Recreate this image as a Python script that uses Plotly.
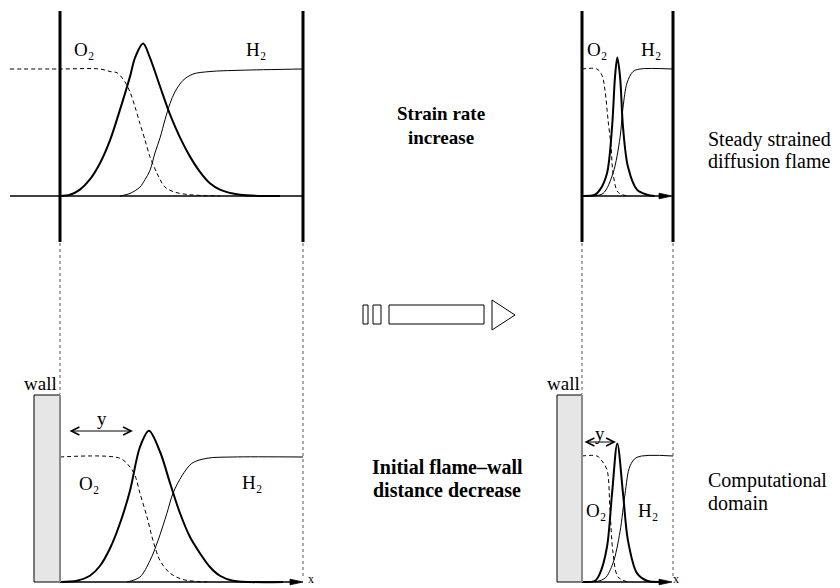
import plotly.graph_objects as go

W, H = 840, 588
SERIF = "Liberation Serif, Times New Roman, serif"

# Species profiles across each domain.
# Position: 0 = left boundary (wall / inlet), 1 = right boundary.
# Level: 0 = none, 1 = level of the incoming reactant stream.

# -- steady strained flame, low strain (top left)
tl_peak_pos = [0.0, 0.041, 0.082, 0.123, 0.165, 0.206, 0.247, 0.288, 0.309, 0.342,
               0.370, 0.412, 0.453, 0.494, 0.535, 0.576, 0.617, 0.658, 0.741, 0.905]
tl_peak_val = [0.0, 0.01, 0.05, 0.13, 0.26, 0.44, 0.68, 0.94, 1.09, 1.20,
               1.09, 0.86, 0.64, 0.46, 0.31, 0.19, 0.10, 0.05, 0.01, 0.0]
tl_o2_pos = [-0.206, 0.0, 0.165, 0.206, 0.235, 0.267, 0.288, 0.309, 0.329, 0.350,
             0.370, 0.399, 0.432, 0.473, 0.535, 0.658]
tl_o2_val = [1.0, 1.0, 1.0, 0.98, 0.97, 0.90, 0.82, 0.70, 0.57, 0.44,
             0.31, 0.18, 0.07, 0.03, 0.01, 0.0]
tl_h2_pos = [0.247, 0.288, 0.329, 0.350, 0.370, 0.391, 0.412, 0.432, 0.453, 0.473,
             0.506, 0.547, 0.617, 0.741, 1.0]
tl_h2_val = [0.0, 0.02, 0.07, 0.13, 0.20, 0.34, 0.46, 0.60, 0.73, 0.82,
             0.91, 0.96, 0.98, 0.99, 1.0]

# -- steady strained flame, high strain (top right)
tr_peak_pos = [0.0, 0.143, 0.198, 0.275, 0.330, 0.363, 0.388, 0.418, 0.451, 0.505,
               0.604, 0.714, 0.80]
tr_peak_val = [0.0, 0.01, 0.05, 0.18, 0.54, 0.94, 1.09, 0.94, 0.54, 0.23,
               0.05, 0.01, 0.0]
tr_o2_pos = [0.0, 0.165, 0.220, 0.253, 0.286, 0.319, 0.341, 0.396, 0.505]
tr_o2_val = [1.0, 1.0, 0.95, 0.83, 0.60, 0.39, 0.18, 0.03, 0.0]
tr_h2_pos = [0.088, 0.231, 0.341, 0.418, 0.451, 0.495, 0.560, 0.637, 1.0]
tr_h2_val = [0.0, 0.02, 0.18, 0.46, 0.70, 0.89, 0.98, 1.0, 1.0]

# -- flame near a wall, large initial distance (bottom left)
bl_peak_pos = [0.0, 0.070, 0.123, 0.165, 0.206, 0.247, 0.288, 0.329, 0.366, 0.412,
               0.453, 0.494, 0.535, 0.576, 0.617, 0.658, 0.712, 0.918]
bl_peak_val = [0.0, 0.01, 0.05, 0.13, 0.27, 0.47, 0.73, 1.08, 1.21, 1.04,
               0.79, 0.55, 0.36, 0.23, 0.12, 0.05, 0.01, 0.0]
bl_o2_pos = [0.0, 0.247, 0.288, 0.309, 0.329, 0.358, 0.383, 0.412, 0.453, 0.506, 0.605]
bl_o2_val = [1.0, 0.99, 0.92, 0.85, 0.71, 0.52, 0.33, 0.17, 0.07, 0.02, 0.0]
bl_h2_pos = [0.276, 0.329, 0.370, 0.403, 0.440, 0.465, 0.502, 0.543, 0.605, 0.712, 1.0]
bl_h2_val = [0.0, 0.04, 0.17, 0.33, 0.55, 0.71, 0.85, 0.95, 0.99, 1.0, 1.0]

# -- flame near a wall, small initial distance (bottom right)
br_peak_pos = [0.0, 0.143, 0.198, 0.275, 0.330, 0.388, 0.451, 0.505, 0.604, 0.714, 0.85]
br_peak_val = [0.0, 0.01, 0.07, 0.28, 0.70, 1.10, 0.70, 0.33, 0.07, 0.01, 0.0]
br_o2_pos = [0.0, 0.165, 0.220, 0.275, 0.308, 0.341, 0.396, 0.505]
br_o2_val = [1.0, 1.0, 0.96, 0.89, 0.57, 0.23, 0.04, 0.0]
br_h2_pos = [0.143, 0.253, 0.341, 0.418, 0.473, 0.527, 0.604, 1.0]
br_h2_val = [0.0, 0.03, 0.15, 0.40, 0.70, 0.92, 0.99, 1.0]

# Panel geometry (pixels): boundary x positions, baseline / reactant-level y, drawing region
PANELS = {
    "tl": dict(p0=60, p1=303, q0=196, q1=69, region=(0, 335, 0, 260)),
    "tr": dict(p0=582, p1=673, q0=196, q1=69, region=(540, 720, 0, 260)),
    "bl": dict(p0=60, p1=303, q0=582, q1=457, region=(0, 335, 330, 588)),
    "br": dict(p0=582, p1=673, q0=582, q1=456, region=(540, 720, 330, 588)),
}
AXES = {"tl": ("x", "y"), "tr": ("x2", "y2"), "bl": ("x3", "y3"), "br": ("x4", "y4")}


def px(x):
    return x / W


def py(y):
    return 1 - y / H


fig = go.Figure()
layout_axes = {}
for key, g in PANELS.items():
    left, right, top, bottom = g["region"]
    xa, ya = AXES[key]
    xname = "xaxis" + xa[1:]
    yname = "yaxis" + ya[1:]
    layout_axes[xname] = dict(
        domain=[px(left), px(right)],
        range=[(left - g["p0"]) / (g["p1"] - g["p0"]), (right - g["p0"]) / (g["p1"] - g["p0"])],
        anchor=ya, visible=False, fixedrange=True)
    layout_axes[yname] = dict(
        domain=[py(bottom), py(top)],
        range=[(g["q0"] - bottom) / (g["q0"] - g["q1"]), (g["q0"] - top) / (g["q0"] - g["q1"])],
        anchor=xa, visible=False, fixedrange=True)
fig.update_layout(**layout_axes)


def u_of(key, xpix):
    g = PANELS[key]
    return (xpix - g["p0"]) / (g["p1"] - g["p0"])


def v_of(key, ypix):
    g = PANELS[key]
    return (g["q0"] - ypix) / (g["q0"] - g["q1"])


PROFILES = {
    "tl": (tl_peak_pos, tl_peak_val, tl_o2_pos, tl_o2_val, tl_h2_pos, tl_h2_val),
    "tr": (tr_peak_pos, tr_peak_val, tr_o2_pos, tr_o2_val, tr_h2_pos, tr_h2_val),
    "bl": (bl_peak_pos, bl_peak_val, bl_o2_pos, bl_o2_val, bl_h2_pos, bl_h2_val),
    "br": (br_peak_pos, br_peak_val, br_o2_pos, br_o2_val, br_h2_pos, br_h2_val),
}

shapes = []

# baselines (drawn under the profiles)
for key in PANELS:
    xa, ya = AXES[key]
    start = -0.206 if key == "tl" else 0.0
    end = 1.0 if key == "tl" else u_of(key, {"tr": 660, "bl": 292, "br": 660}[key])
    shapes.append(dict(type="line", xref=xa, yref=ya, x0=start, x1=end, y0=0, y1=0,
                       line=dict(color="black", width=1.3), layer="below"))
    if key != "tl":
        tip = u_of(key, {"tr": 672, "bl": 303, "br": 672}[key])
        shapes.append(dict(type="path", xref=xa, yref=ya, xsizemode="pixel", ysizemode="pixel",
                           xanchor=tip, yanchor=0, path="M0,0 L-13,2.8 L-13,-2.8 Z",
                           fillcolor="black", line=dict(color="black", width=0.8)))

for key, (pk_x, pk_y, o2_x, o2_y, h2_x, h2_y) in PROFILES.items():
    xa, ya = AXES[key]
    fig.add_trace(go.Scatter(x=o2_x, y=o2_y, xaxis=xa, yaxis=ya, mode="lines",
                             line=dict(color="black", width=1, dash="4px,3px",
                                       shape="spline", smoothing=0.9),
                             hoverinfo="skip", showlegend=False))
    fig.add_trace(go.Scatter(x=h2_x, y=h2_y, xaxis=xa, yaxis=ya, mode="lines",
                             line=dict(color="black", width=1, shape="spline", smoothing=0.9),
                             hoverinfo="skip", showlegend=False))
    fig.add_trace(go.Scatter(x=pk_x, y=pk_y, xaxis=xa, yaxis=ya, mode="lines",
                             line=dict(color="black", width=2, shape="spline", smoothing=0.9),
                             hoverinfo="skip", showlegend=False))

# domain boundaries of the strained flames (solid) and their projections (dotted)
for key in ("tl", "tr"):
    xa, _ = AXES[key]
    for u in (0.0, 1.0):
        shapes.append(dict(type="line", xref=xa, yref="paper", x0=u, x1=u,
                           y0=py(11), y1=py(242), line=dict(color="black", width=3)))
for key in ("bl", "br"):
    xa, _ = AXES[key]
    shapes.append(dict(type="line", xref=xa, yref="paper", x0=0, x1=0,
                       y0=py(243), y1=py(394), line=dict(color="#555", width=1, dash="dot")))
    shapes.append(dict(type="line", xref=xa, yref="paper", x0=1, x1=1,
                       y0=py(243), y1=py(577), line=dict(color="#555", width=1, dash="dot")))
    # wall
    wall_left = {"bl": 34, "br": 557}[key]
    shapes.append(dict(type="rect", xref=xa, yref="paper", x0=u_of(key, wall_left), x1=0,
                       y0=py(582), y1=py(395), fillcolor="#e6e6e6",
                       line=dict(color="black", width=1)))
    shapes.append(dict(type="line", xref=xa, yref="paper", x0=0, x1=0,
                       y0=py(582), y1=py(395), line=dict(color="#8a8a8a", width=2)))

# central arrow
for x0, x1 in ((363, 368), (373, 381), (389, 484)):
    shapes.append(dict(type="rect", xref="paper", yref="paper", x0=px(x0), x1=px(x1),
                       y0=py(324), y1=py(305), fillcolor="white",
                       line=dict(color="black", width=1)))
shapes.append(dict(type="path", xref="paper", yref="paper",
                   path=f"M{px(492)},{py(300)} L{px(515)},{py(315)} L{px(492)},{py(330)} Z",
                   fillcolor="white", line=dict(color="black", width=1)))

annotations = []


def label(text, x, y, size=19, xanchor="left", bold=False, ya="middle"):
    t = f"<b>{text}</b>" if bold else text
    annotations.append(dict(text=t, x=px(x), y=py(y), xref="paper", yref="paper",
                            xanchor=xanchor, yanchor=ya, showarrow=False,
                            font=dict(family=SERIF, size=size, color="black")))


O2 = "O\u2082"
H2 = "H\u2082"
label(O2, 72, 50)
label(H2, 244, 50)
label(O2, 585, 50)
label(H2, 639, 50)
label(O2, 77, 483)
label(H2, 240, 482)
label(O2, 584, 510)
label(H2, 636, 510)
label("wall", 59, 384, xanchor="right")
label("wall", 582, 384, xanchor="right")
label("y", 102, 418, xanchor="center")
label("y", 600, 433, xanchor="center")
label("x", 306, 588, size=12, ya="bottom")
label("x", 671, 588, size=12, ya="bottom")

label("Strain rate", 441, 113, size=19, xanchor="center", bold=True)
label("increase", 441, 137, size=19, xanchor="center", bold=True)
label("Initial flame\u2013wall", 447, 467, size=20, xanchor="center", bold=True)
label("distance decrease", 447, 490, size=20, xanchor="center", bold=True)
label("Steady strained", 706, 139, size=20)
label("diffusion flame", 706, 161, size=20)
label("Computational", 706, 480, size=20)
label("domain", 706, 503, size=20)

# flame-wall distance arrows
for key, xl, xr, ypix in (("bl", 68, 133, 431), ("br", 583, 616, 442)):
    xa, ya = AXES[key]
    annotations.append(dict(text="", xref=xa, yref=ya, axref=xa, ayref=ya,
                            x=u_of(key, xr), y=v_of(key, ypix),
                            ax=u_of(key, xl), ay=v_of(key, ypix),
                            showarrow=True, arrowside="end+start", arrowhead=5,
                            startarrowhead=5, arrowsize=1.6, startarrowsize=1.6,
                            arrowwidth=1, arrowcolor="black", standoff=0, startstandoff=0))

fig.update_layout(
    width=W, height=H,
    margin=dict(l=0, r=0, t=0, b=0),
    paper_bgcolor="white", plot_bgcolor="rgba(0,0,0,0)",
    shapes=shapes, annotations=annotations,
    showlegend=False,
)

fig.write_html("out.html", config={"displayModeBar": False})
